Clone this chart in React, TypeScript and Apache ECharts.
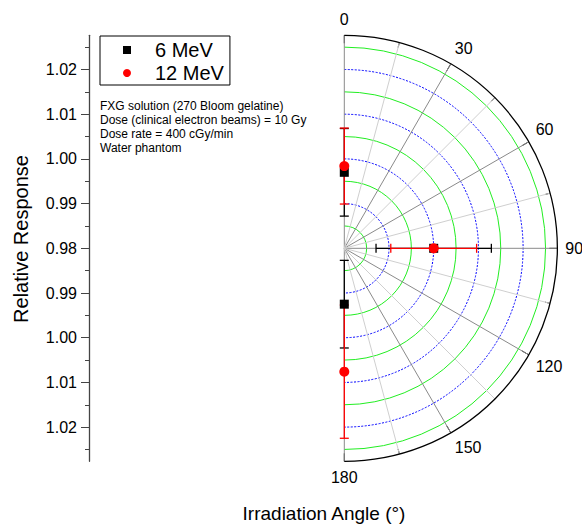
import React, { useEffect, useRef } from "react";
import * as echarts from "echarts";

// ---- data ----
const angles = [0, 90, 180];
const resp6MeV = [0.997, 1.0, 0.9925];
const err6MeV = [0.0098, 0.0129, 0.0098];
const resp12MeV = [0.9984, 1.0, 1.0076];
const err12MeV = [0.0085, 0.0096, 0.0149];

const angleTicks = [0, 30, 60, 90, 120, 150, 180];
const radiusMin = 0.98;
const radiusGridMax = 1.03;
const radiusFrameMax = 1.02765;
const leftTickValues = [-0.04, -0.03, -0.02, -0.01, 0, 0.01, 0.02, 0.03, 0.04];
const noteLines = [
  "FXG solution (270 Bloom gelatine)",
  "Dose (clinical electron beams) = 10 Gy",
  "Dose rate = 400 cGy/min",
  "Water phantom",
];
const legendNames = ["6 MeV", "12 MeV"];

const FONT = "'Liberation Sans', Arial, Helvetica, sans-serif";

const CX = 344.3;
const CY = 248.3;
const R_GRID = 223.5; // 0.05 in radius units
const R_FRAME = 213;
const CLEAR = "rgba(0,0,0,0)";

function errorBarSeries(name: string, vals: number[], errs: number[], color: string) {
  return {
    type: "custom",
    name: name + " err",
    coordinateSystem: "polar",
    polarIndex: 0,
    silent: true,
    data: vals.map((v, i) => [v, angles[i], errs[i]]),
    renderItem: (params: any, api: any) => {
      const r = api.value(0);
      const a = api.value(1);
      const e = api.value(2);
      const p1 = api.coord([r - e, a]);
      const p2 = api.coord([r + e, a]);
      const dx = p2[0] - p1[0];
      const dy = p2[1] - p1[1];
      const len = Math.hypot(dx, dy) || 1;
      const cap = 4.5;
      const nx = (-dy / len) * cap;
      const ny = (dx / len) * cap;
      const style = { stroke: color, lineWidth: 1.3, fill: null };
      return {
        type: "group",
        children: [
          { type: "line", shape: { x1: p1[0], y1: p1[1], x2: p2[0], y2: p2[1] }, style },
          { type: "line", shape: { x1: p1[0] - nx, y1: p1[1] - ny, x2: p1[0] + nx, y2: p1[1] + ny }, style },
          { type: "line", shape: { x1: p2[0] - nx, y1: p2[1] - ny, x2: p2[0] + nx, y2: p2[1] + ny }, style },
        ],
      };
    },
    z: 3,
  };
}

function hiddenAngleAxis(polarIndex: number) {
  return {
    polarIndex,
    type: "value",
    min: 0,
    max: 180,
    interval: 30,
    startAngle: 90,
    endAngle: -90,
    clockwise: true,
    axisLine: { show: false },
    axisTick: { show: false },
    axisLabel: { show: false },
    splitLine: { show: false },
  };
}

export default function App() {
  const ref = useRef<HTMLDivElement>(null);
  useEffect(() => {
    if (!ref.current) return;
    const chart = echarts.init(ref.current, null, { renderer: "svg" });
    const option: any = {
      animation: false,
      backgroundColor: "#fff",
      textStyle: { fontFamily: FONT, color: "#000" },
      legend: {
        data: [
          { name: legendNames[0], icon: "path://M0,0L10,0L10,10L0,10Z" },
          { name: legendNames[1], icon: "circle" },
        ],
        orient: "vertical",
        left: 100,
        top: 36,
        itemWidth: 46,
        itemHeight: 8,
        itemGap: 3,
        symbolKeepAspect: true,
        padding: [4, 6, 2, 23],
        borderColor: "#000",
        borderWidth: 1,
        textStyle: { fontSize: 20, color: "#000", fontFamily: FONT },
        selectedMode: false,
      },
      graphic: [
        {
          type: "text",
          left: 100,
          top: 99,
          style: {
            text: noteLines.join("\n"),
            font: `12px ${FONT}`,
            lineHeight: 14,
            fill: "#000",
          },
        },
        {
          type: "text",
          x: 21,
          y: 239,
          rotation: Math.PI / 2,
          style: {
            text: "Relative Response",
            font: `20px ${FONT}`,
            fill: "#000",
            align: "center",
            verticalAlign: "middle",
          },
        },
        {
          type: "text",
          x: 324,
          y: 513,
          style: {
            text: "Irradiation Angle (°)",
            font: `19px ${FONT}`,
            fill: "#000",
            align: "center",
            verticalAlign: "middle",
          },
        },
      ],
      grid: [
        { left: 89, top: CY - R_GRID, width: 10, height: 2 * R_GRID },
        { left: 89, top: CY - R_FRAME, width: 10, height: 2 * R_FRAME },
      ],
      xAxis: [
        { gridIndex: 0, type: "value", show: false, min: 0, max: 1 },
        { gridIndex: 1, type: "value", show: false, min: 0, max: 1 },
      ],
      yAxis: [
        {
          gridIndex: 0,
          type: "value",
          min: -0.05,
          max: 0.05,
          interval: 0.01,
          axisLine: { show: false },
          splitLine: { show: false },
          axisTick: {
            show: true,
            length: 8,
            customValues: leftTickValues,
            lineStyle: { color: "#444", width: 1 },
          },
          minorTick: { show: true, splitNumber: 2, length: 4, lineStyle: { color: "#444", width: 1 } },
          axisLabel: {
            customValues: leftTickValues,
            margin: 12,
            fontSize: 16,
            color: "#000",
            fontFamily: FONT,
            formatter: (v: number) => (radiusMin + Math.abs(v)).toFixed(2),
          },
        },
        {
          gridIndex: 1,
          type: "value",
          min: 0,
          max: 1,
          axisLine: { show: true, lineStyle: { color: "#444", width: 1.3 } },
          axisTick: { show: false },
          axisLabel: { show: false },
          splitLine: { show: false },
        },
      ],
      polar: [
        { center: [CX, CY], radius: R_GRID },
        { center: [CX, CY], radius: R_FRAME },
        { center: [CX, CY], radius: R_GRID },
      ],
      angleAxis: [
        hiddenAngleAxis(0),
        {
          polarIndex: 1,
          type: "value",
          min: angleTicks[0],
          max: angleTicks[angleTicks.length - 1],
          interval: 30,
          startAngle: 90,
          endAngle: -90,
          clockwise: true,
          axisLine: { show: true, lineStyle: { color: "#000", width: 1.3 } },
          axisTick: { show: true, inside: true, length: 8, lineStyle: { color: "#000", width: 1 } },
          minorTick: { show: true, splitNumber: 2, length: 5, lineStyle: { color: "#000", width: 1 } },
          axisLabel: { show: true, margin: 8, fontSize: 16, color: "#000", fontFamily: FONT },
          splitLine: { show: true, lineStyle: { color: "#8a8a8a", width: 1 } },
          minorSplitLine: { show: true, lineStyle: { color: "#cfcfcf", width: 1 } },
        },
        hiddenAngleAxis(2),
      ],
      radiusAxis: [
        {
          polarIndex: 0,
          type: "value",
          min: radiusMin,
          max: radiusGridMax,
          interval: 0.01,
          axisLine: { show: false },
          axisTick: { show: false },
          axisLabel: { show: false },
          splitLine: {
            show: true,
            lineStyle: {
              color: ["#0000ff", "#0000ff", "#0000ff", "#0000ff", "#0000ff", CLEAR],
              type: [2, 1.5],
              width: 1,
            },
          },
        },
        {
          polarIndex: 1,
          type: "value",
          min: radiusMin,
          max: radiusFrameMax,
          axisLine: { show: false },
          axisTick: { show: false },
          axisLabel: { show: false },
          splitLine: { show: false },
        },
        {
          polarIndex: 2,
          type: "value",
          min: radiusMin,
          max: radiusGridMax,
          interval: 0.005,
          axisLine: { show: false },
          axisTick: { show: false },
          axisLabel: { show: false },
          splitLine: {
            show: true,
            lineStyle: { color: [CLEAR, "#22ee22"], type: "solid", width: 1 },
          },
        },
      ],
      series: [
        errorBarSeries(legendNames[0], resp6MeV, err6MeV, "#000"),
        errorBarSeries(legendNames[1], resp12MeV, err12MeV, "#ff0000"),
        {
          type: "scatter",
          name: legendNames[0],
          coordinateSystem: "polar",
          polarIndex: 0,
          symbol: "rect",
          symbolSize: 9,
          itemStyle: { color: "#000", opacity: 1 },
          data: resp6MeV.map((v, i) => [v, angles[i]]),
          z: 4,
        },
        {
          type: "scatter",
          name: legendNames[1],
          coordinateSystem: "polar",
          polarIndex: 0,
          symbol: "circle",
          symbolSize: 10,
          itemStyle: { color: "#ff0000", opacity: 1 },
          data: resp12MeV.map((v, i) => [v, angles[i]]),
          z: 5,
        },
      ],
    };
    chart.setOption(option);
    return () => chart.dispose();
  }, []);
  return (
    <div
      ref={ref}
      style={{ position: "fixed", left: 0, top: 0, width: 582, height: 525 }}
    />
  );
}
